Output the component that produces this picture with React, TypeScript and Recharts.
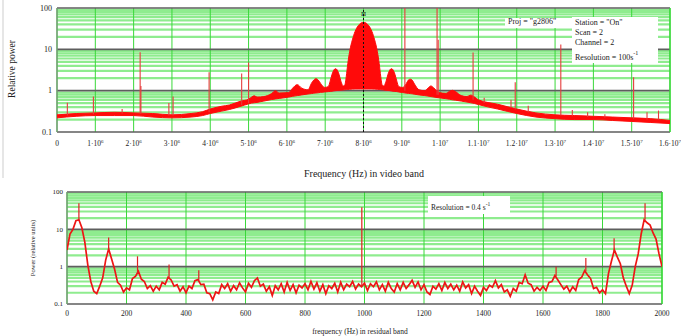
import React from 'react';
import { ComposedChart, Area, Line, XAxis, YAxis, ReferenceLine } from 'recharts';

const FONT = "'Liberation Serif', 'Times New Roman', serif";

// ---------- top panel (video band), frequency in MHz ----------
const topFreq = [0, 0.5, 1.0, 1.5, 2.0, 2.5, 3.0, 3.5, 3.8, 4.0, 4.3, 4.5, 4.8, 5.0, 5.08, 5.15, 5.22, 5.4, 5.6, 5.7,
  5.8, 6.05, 6.15, 6.27, 6.39, 6.55, 6.64, 6.7, 6.76, 6.82, 6.88, 6.98, 7.08, 7.13, 7.18, 7.23, 7.27, 7.31, 7.36, 7.41,
  7.47, 7.51, 7.55, 7.59, 7.64, 7.71, 7.78, 7.86, 7.93, 8.0, 8.07, 8.14, 8.22, 8.29, 8.36, 8.41, 8.45, 8.49, 8.53, 8.59,
  8.64, 8.69, 8.73, 8.77, 8.82, 8.87, 8.92, 9.02, 9.12, 9.17, 9.22, 9.27, 9.33, 9.45, 9.6, 9.68, 9.76, 9.84, 9.98, 10.15,
  10.25, 10.32, 10.4, 10.55, 10.7, 10.8, 10.9, 11.0, 11.5, 12.0, 12.5, 13.0, 13.5, 14.0, 14.5, 15.0, 15.5, 16.0];
const topLow = [0.22, 0.24, 0.25, 0.25, 0.25, 0.23, 0.22, 0.23, 0.25, 0.28, 0.32, 0.35, 0.42, 0.48, 0.5, 0.51, 0.52, 0.56, 0.61, 0.63,
  0.65, 0.7, 0.73, 0.76, 0.79, 0.83, 0.85, 0.87, 0.88, 0.89, 0.91, 0.93, 0.95, 0.96, 0.97, 0.99, 1.0, 1.01, 1.02, 1.03,
  1.04, 1.05, 1.06, 1.07, 1.08, 1.09, 1.1, 1.1, 1.1, 1.1, 1.1, 1.1, 1.1, 1.09, 1.08, 1.07, 1.06, 1.05, 1.04, 1.02,
  1.01, 1.0, 0.98, 0.97, 0.96, 0.95, 0.93, 0.9, 0.87, 0.86, 0.85, 0.84, 0.82, 0.79, 0.76, 0.74, 0.72, 0.7, 0.67, 0.64,
  0.62, 0.6, 0.59, 0.56, 0.53, 0.51, 0.49, 0.46, 0.36, 0.28, 0.23, 0.21, 0.2, 0.2, 0.19, 0.18, 0.17, 0.16];
const topHigh = [0.26, 0.28, 0.29, 0.3, 0.29, 0.28, 0.26, 0.28, 0.31, 0.36, 0.42, 0.45, 0.56, 0.62, 0.7, 0.75, 0.7, 0.72, 0.85, 1.0,
  0.88, 0.9, 1.15, 1.4, 1.15, 1.05, 1.5, 1.8, 1.95, 1.8, 1.5, 1.2, 1.25, 1.7, 2.5, 3.2, 3.4, 3.2, 2.5, 1.7,
  1.3, 1.35, 2.2, 4.5, 9.0, 17, 27, 37, 43, 45, 43, 37, 27, 17, 9.0, 4.5, 2.2, 1.35, 1.3, 1.7,
  2.5, 3.2, 3.4, 3.2, 2.5, 1.7, 1.25, 1.2, 1.5, 1.8, 1.9, 1.8, 1.45, 1.05, 1.0, 1.15, 1.3, 1.15, 0.9, 0.86,
  0.97, 1.02, 0.95, 0.76, 0.72, 0.78, 0.7, 0.6, 0.47, 0.36, 0.29, 0.26, 0.25, 0.24, 0.23, 0.22, 0.21, 0.19];

const topSpikeFreq = [0.27, 0.95, 1.7, 2.17, 2.19, 2.92, 3.03, 3.97, 4.82, 5.0, 9.08, 9.92, 9.95, 10.86, 11.15, 11.85, 11.96, 12.3, 13.15, 13.45, 13.85, 14.3, 15.05, 15.4, 15.7];
const topSpikeBase = [0.25, 0.27, 0.28, 0.28, 0.28, 0.25, 0.25, 0.3, 0.45, 0.5, 1.0, 0.8, 0.8, 0.6, 0.5, 0.38, 0.35, 0.3, 0.25, 0.24, 0.23, 0.22, 0.21, 0.2, 0.2];
const topSpikePeak = [0.51, 0.72, 0.36, 8.5, 1.3, 0.5, 0.72, 2.8, 2.6, 4.8, 100, 100, 17, 8.4, 0.67, 0.6, 1.6, 0.43, 13, 0.34, 0.3, 0.27, 2.1, 0.3, 0.33];

const topXTicks = [0, 1, 2, 3, 4, 5, 6, 7, 8, 9, 10, 11, 12, 13, 14, 15, 16];
const topXTickLabels = ['0', '1·10^6', '2·10^6', '3·10^6', '4·10^6', '5·10^6', '6·10^6', '7·10^6', '8·10^6', '9·10^6',
  '1·10^7', '1.1·10^7', '1.2·10^7', '1.3·10^7', '1.4·10^7', '1.5·10^7', '1.6·10^7'];

// ---------- shared log axis ----------
const yTicks = [0.1, 1, 10, 100];
const yTickLabels = ['0.1', '1', '10', '100'];
const decadeLines = [1, 10];
const minorLines = [0.2, 0.3, 0.4, 0.5, 0.6, 0.7, 0.8, 0.9, 2, 3, 4, 5, 6, 7, 8, 9, 20, 30, 40, 50, 60, 70, 80, 90];

// ---------- bottom panel (residual band), 10 Hz steps ----------
const bottomStepHz = 10;
const bottomPower = [
  2.8, 7.5, 10, 17, 18, 11, 4.5, 1.1, 0.4, 0.22,
  0.19, 0.3, 0.5, 1.5, 3.0, 1.6, 0.85, 0.38, 0.32, 0.21,
  0.27, 0.24, 0.48, 0.55, 0.75, 0.46, 0.4, 0.26, 0.31, 0.22,
  0.3, 0.24, 0.38, 0.34, 0.52, 0.44, 0.3, 0.33, 0.22, 0.29,
  0.2, 0.3, 0.26, 0.42, 0.45, 0.33, 0.34, 0.2, 0.19, 0.13,
  0.21, 0.19, 0.33, 0.26, 0.35, 0.22, 0.31, 0.24, 0.37, 0.27,
  0.21, 0.36, 0.28, 0.42, 0.5, 0.3, 0.34, 0.22, 0.29, 0.17,
  0.31, 0.24, 0.35, 0.21, 0.38, 0.23, 0.33, 0.2, 0.32, 0.27,
  0.35, 0.24, 0.4, 0.25, 0.37, 0.22, 0.33, 0.19, 0.31, 0.26,
  0.36, 0.21, 0.38, 0.24, 0.34, 0.29, 0.4, 0.25, 0.34, 0.29,
  0.36, 0.23, 0.35, 0.29, 0.39, 0.24, 0.33, 0.22, 0.38, 0.26,
  0.21, 0.35, 0.24, 0.38, 0.26, 0.33, 0.43, 0.28, 0.39, 0.24,
  0.33, 0.21, 0.18, 0.3, 0.25, 0.35, 0.23, 0.38, 0.26, 0.34,
  0.24, 0.32, 0.22, 0.39, 0.27, 0.33, 0.19, 0.3, 0.22, 0.17,
  0.28, 0.23, 0.32, 0.28, 0.42, 0.27, 0.33, 0.21, 0.24, 0.16,
  0.26, 0.22, 0.38, 0.35, 0.6, 0.36, 0.33, 0.22, 0.28, 0.23,
  0.3, 0.23, 0.38, 0.4, 0.58, 0.44, 0.33, 0.25, 0.3, 0.21,
  0.29, 0.23, 0.45, 0.52, 0.78, 0.6, 0.48, 0.26, 0.28, 0.2,
  0.24, 0.19, 0.65, 1.4, 2.8, 1.8, 1.2, 0.5, 0.3, 0.19,
  0.32, 1.0, 2.2, 7.5, 18, 15, 13, 8, 5.5, 2.2,
  1.0];
const bottomSpikeFreq = [40, 140, 237, 343, 443, 991, 1644, 1744, 1839, 1943];
const bottomSpikeBase = [18, 3, 0.65, 0.5, 0.42, 0.3, 0.55, 0.75, 2.6, 18];
const bottomSpikePeak = [50, 6, 1.9, 1.15, 0.8, 39, 1.0, 1.7, 5.8, 50];
const bottomXTicks = [0, 200, 400, 600, 800, 1000, 1200, 1400, 1600, 1800, 2000];

// ---------- tables ----------
const topTable = topFreq.map((f, i) => ({ f, band: [topLow[i], topHigh[i]] }));
const bottomTable = bottomPower.map((p, i) => ({ f: i * bottomStepHz, p }));

const GRID_MINOR = '#8fec8f';
const GRID_V = '#3ad83a';
const DARK = '#5e5e5e';
const RED = '#ff0a0a';

function TopXTick(props: any) {
  const { x, y, payload } = props;
  const i = topXTicks.indexOf(payload.value);
  const [m, e] = (topXTickLabels[i] || '').split('^');
  return (
    <text x={x} y={y + 14} textAnchor="middle" fontFamily={FONT} fontSize={7.5} fill="#222">
      <tspan>{m}</tspan>
      {e ? <tspan dy={-3.5} fontSize={5}>{e}</tspan> : null}
    </text>
  );
}

function makeYTick(fontSize: number, dx: number) {
  return (props: any) => {
    const { x, y, payload } = props;
    const i = yTicks.indexOf(payload.value);
    return (
      <text x={x - dx} y={y + fontSize * 0.35} textAnchor="end" fontFamily={FONT} fontSize={fontSize} fill="#222">
        {yTickLabels[i]}
      </text>
    );
  };
}

function BottomXTick(props: any) {
  const { x, y, payload } = props;
  return (
    <text x={x} y={y + 12} textAnchor="middle" fontFamily={FONT} fontSize={7.5} fill="#222">
      {payload.value}
    </text>
  );
}

function gridLines(xTicks: number[], xMin: number, xMax: number) {
  const out: any[] = [];
  minorLines.forEach((v) => out.push(
    <ReferenceLine key={'m' + v} y={v} stroke={GRID_MINOR} strokeWidth={2.2} zIndex={-50} />
  ));
  xTicks.forEach((v) => out.push(
    <ReferenceLine key={'v' + v} x={v} stroke={GRID_V} strokeWidth={1} zIndex={-40} />
  ));
  decadeLines.forEach((v) => out.push(
    <ReferenceLine key={'d' + v} y={v} stroke={DARK} strokeWidth={1.6} zIndex={-30} />
  ));
  out.push(<ReferenceLine key="bt" y={100} stroke={DARK} strokeWidth={1.6} zIndex={-30} />);
  out.push(<ReferenceLine key="bb" y={0.1} stroke={DARK} strokeWidth={1.6} zIndex={-30} />);
  out.push(<ReferenceLine key="bl" x={xMin} stroke="#7a9a7a" strokeWidth={1.4} zIndex={-30} />);
  out.push(<ReferenceLine key="br" x={xMax} stroke={GRID_V} strokeWidth={1.4} zIndex={-30} />);
  return out;
}

function TopChart() {
  return (
    <ComposedChart width={681} height={180} data={topTable} margin={{ top: 8, right: 11, left: 0, bottom: 0 }}>
      <XAxis dataKey="f" type="number" domain={[0, 16]} ticks={topXTicks} interval={0} allowDataOverflow
        tick={(p: any) => <TopXTick {...p} />} tickLine={false} axisLine={false} tickSize={0} tickMargin={0} height={48} />
      <YAxis type="number" scale="log" domain={[0.1, 100]} ticks={yTicks} interval={0} allowDataOverflow
        tick={makeYTick(8, 5)} tickLine={false} axisLine={false} tickSize={0} tickMargin={0} width={57} />
      {gridLines(topXTicks, 0, 16)}
      <Area dataKey="band" type="monotone" stroke={RED} strokeWidth={1} fill={RED} fillOpacity={1}
        isAnimationActive={false} dot={false} activeDot={false} />
      {topSpikeFreq.map((f, i) => (
        <Line key={'ts' + i} data={[{ f, v: topSpikeBase[i] }, { f, v: topSpikePeak[i] }]} dataKey="v"
          stroke="#e63c3c" strokeWidth={1.1} dot={false} activeDot={false} isAnimationActive={false} />
      ))}
      <ReferenceLine x={8} stroke="#111" strokeWidth={1} strokeDasharray="2 2" zIndex={500}
        label={{ value: 'Π', position: 'insideTop', fontSize: 7, fill: '#111', offset: 3 }} />
    </ComposedChart>
  );
}

function BottomChart() {
  return (
    <ComposedChart width={681} height={156} data={bottomTable} margin={{ top: 12, right: 19, left: 0, bottom: 0 }}>
      <XAxis dataKey="f" type="number" domain={[0, 2000]} ticks={bottomXTicks} interval={0} allowDataOverflow
        tick={(p: any) => <BottomXTick {...p} />} tickLine={false} axisLine={false} tickSize={0} tickMargin={0} height={32} />
      <YAxis type="number" scale="log" domain={[0.1, 100]} ticks={yTicks} interval={0} allowDataOverflow
        tick={makeYTick(7, 4)} tickLine={false} axisLine={false} tickSize={0} tickMargin={0} width={67} />
      {gridLines(bottomXTicks, 0, 2000)}
      <Line dataKey="p" type="linear" stroke="#ee1515" strokeWidth={1.7} dot={false} activeDot={false} isAnimationActive={false} />
      {bottomSpikeFreq.map((f, i) => (
        <Line key={'bs' + i} data={[{ f, v: bottomSpikeBase[i] }, { f, v: bottomSpikePeak[i] }]} dataKey="v"
          stroke="#e02020" strokeWidth={1.2} dot={false} activeDot={false} isAnimationActive={false} />
      ))}
    </ComposedChart>
  );
}

const txt: React.CSSProperties = { position: 'absolute', fontFamily: FONT, color: '#222', whiteSpace: 'nowrap', lineHeight: 1 };

export default function App() {
  return (
    <div style={{ position: 'fixed', left: 0, top: 0, width: 681, height: 336, background: '#fff', overflow: 'hidden' }}>
      <div style={{ position: 'absolute', left: 2, top: 0, width: 2, height: 178, background: '#e6e6e6' }} />
      <div style={{ position: 'absolute', left: 0, top: 0 }}><TopChart /></div>
      <div style={{ position: 'absolute', left: 0, top: 180 }}><BottomChart /></div>

      {/* top annotations */}
      <div style={{ ...txt, left: 505, top: 18, width: 66, height: 10, background: '#fff', fontSize: 8, paddingLeft: 3 }}>Proj = "g2806"</div>
      <div style={{ ...txt, left: 572, top: 17, width: 86, height: 46, background: '#fff', fontSize: 8 }}>
        <div style={{ position: 'absolute', left: 3, top: 2 }}>Station = "On"</div>
        <div style={{ position: 'absolute', left: 3, top: 12 }}>Scan = 2</div>
        <div style={{ position: 'absolute', left: 3, top: 22 }}>Channel = 2</div>
        <div style={{ position: 'absolute', left: 3, top: 37 }}>Resolution = 100s<span style={{ position: 'relative', top: -5, fontSize: 6 }}>-1</span></div>
      </div>
      <div style={{ ...txt, left: 13, top: 69, fontSize: 9.5, transform: 'translate(-50%,-50%) rotate(-90deg)' }}>Relative power</div>
      <div style={{ ...txt, left: 264, width: 200, top: 169, textAlign: 'center', fontSize: 10 }}>Frequency (Hz) in video band</div>

      {/* bottom annotations */}
      <div style={{ ...txt, left: 428, top: 196, width: 82, height: 18, background: '#fff', fontSize: 7.5 }}>
        <div style={{ position: 'absolute', left: 3, top: 8 }}>Resolution = 0.4 s<span style={{ position: 'relative', top: -4, fontSize: 5.5 }}>-1</span></div>
      </div>
      <div style={{ ...txt, left: 33, top: 248, fontSize: 6.5, transform: 'translate(-50%,-50%) rotate(-90deg)' }}>Power (relative units)</div>
      <div style={{ ...txt, left: 260, width: 200, top: 328, textAlign: 'center', fontSize: 7.5 }}>frequency (Hz) in residual band</div>
    </div>
  );
}
